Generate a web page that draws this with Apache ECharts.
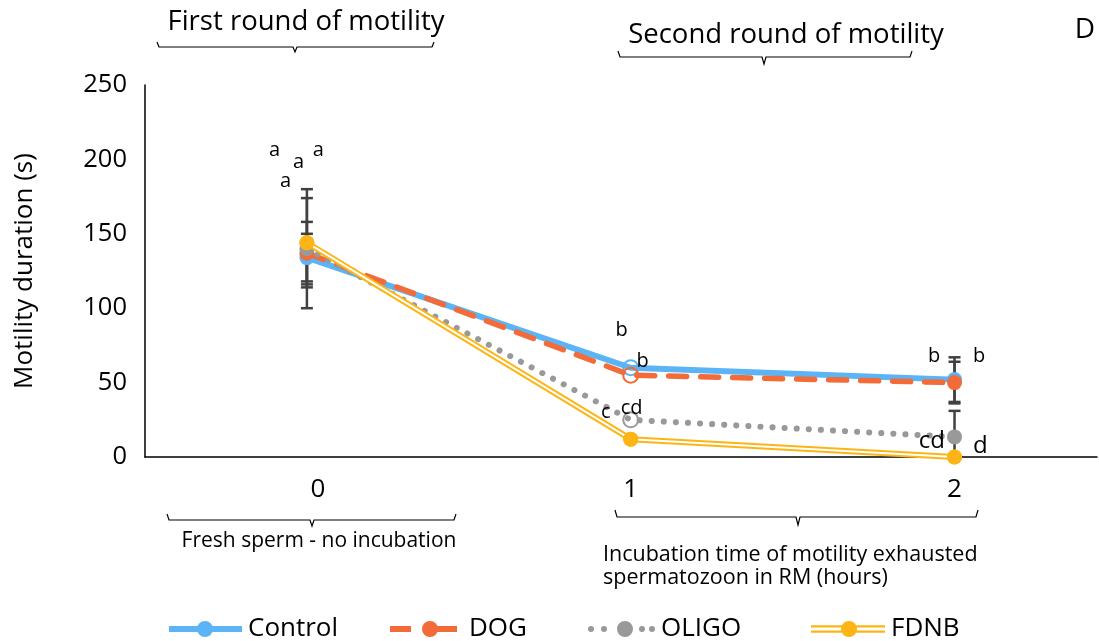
<!DOCTYPE html>
<html>
<head>
<meta charset="utf-8">
<script src="https://cdn.jsdelivr.net/npm/echarts@6/dist/echarts.min.js"></script>
<style>
html,body{margin:0;padding:0;background:#fff;}
#c{width:1099px;height:641px;}
</style>
</head>
<body>
<div id="c"></div>
<script>
// ---- data ----
const xValues = [0, 1, 2];
const xTickLabels = ['0', '1', '2'];
const seriesNames = ['Control', 'DOG', 'OLIGO', 'FDNB'];
const control = [134, 60, 52];
const dog = [137, 55, 50];
const oligo = [140, 25, 13.5];
const fdnb = [144, 12, 0];
const controlErr = [16, 0, 15];
const dogErr = [21, 0, 14];
const oligoErr = [40, 0, 17.5];
const fdnbErr = [30, 0, 0];
// hollow markers at these indices
const hollowIdx = {Control: [1], DOG: [1], OLIGO: [1], FDNB: []};
// significance letters: [x, y, text, size]
const letters = [
  [-0.10, 206, 'a', 20], [-0.026, 198, 'a', 20], [0.035, 206, 'a', 20], [-0.066, 185.5, 'a', 20],
  [0.972, 85, 'b', 20], [1.037, 64.5, 'b', 20], [0.923, 30, 'c', 20], [1.003, 33, 'cd', 20],
  [1.937, 68, 'b', 20], [2.076, 68, 'b', 20], [1.93, 10.5, 'cd', 24], [2.08, 7.5, 'd', 24]
];

const colors = {Control: '#5AB4F5', DOG: '#F26B38', OLIGO: '#999999', FDNB: '#FDB515'};
const FONT = '"Open Sans", "Noto Sans", sans-serif';

function mkData(name, vals) {
  return xValues.map((x, i) => {
    if (hollowIdx[name].indexOf(i) >= 0) {
      return {value: [x, vals[i]], itemStyle: {color: 'rgba(255,255,255,0)', borderColor: colors[name], borderWidth: 2}};
    }
    return {value: [x, vals[i]]};
  });
}

const errData = [];
[[control, controlErr], [dog, dogErr], [oligo, oligoErr], [fdnb, fdnbErr]].forEach(([v, e]) => {
  xValues.forEach((x, i) => { if (e[i] > 0) errData.push([x, v[i] - e[i], v[i] + e[i]]); });
});

const chart = echarts.init(document.getElementById('c'), null, {renderer: 'canvas'});

function circ(cx, cy, r) {
  return 'M' + (cx - r) + ',' + cy + ' A' + r + ',' + r + ' 0 1,1 ' + (cx + r) + ',' + cy + ' A' + r + ',' + r + ' 0 1,1 ' + (cx - r) + ',' + cy + ' Z';
}
function rect(x, y, w, h) {
  return 'M' + x + ',' + y + ' L' + (x + w) + ',' + y + ' L' + (x + w) + ',' + (y + h) + ' L' + x + ',' + (y + h) + ' Z';
}
const icons = {
  Control: 'path://' + rect(0, 5, 73, 6) + ' ' + circ(36, 8, 8),
  DOG: 'path://' + rect(0, 5, 21, 6) + ' ' + rect(47, 5, 20, 6) + ' ' + circ(40, 8, 8),
  OLIGO: 'path://' + circ(3, 8, 3) + ' ' + circ(16, 8, 3) + ' ' + circ(37, 8, 8) + ' ' + circ(54, 8, 3) + ' ' + circ(64, 8, 3),
  FDNB: 'path://' + rect(0, 4.2, 74, 2.2) + ' ' + rect(0, 9.6, 74, 2.2) + ' ' + circ(38, 8, 8)
};
const iconW = {Control: 73, DOG: 67, OLIGO: 67, FDNB: 74};
const textPad = {Control: 1, DOG: 7, OLIGO: 1, FDNB: 1};

function legendAt(name, left) {
  return {
    data: [{name: name, icon: icons[name]}], left: left, top: 616,
    itemWidth: iconW[name], itemHeight: 16, itemGap: 0, padding: 0,
    textStyle: {fontSize: 26, color: '#000', fontFamily: FONT, padding: [0, 0, 0, textPad[name]]},
    selectedMode: false
  };
}

const option = {
  animation: false,
  backgroundColor: '#fff',
  grid: {left: 145, right: 2, top: 85, bottom: 184},
  legend: [
    legendAt('Control', 169),
    legendAt('DOG', 390),
    legendAt('OLIGO', 588),
    legendAt('FDNB', 811)
  ],
  xAxis: {
    type: 'value', min: -0.5, max: 2.44, interval: 0.5,
    splitLine: {show: false}, axisTick: {show: false},
    axisLine: {show: true, onZero: false, lineStyle: {color: '#000', width: 1.5}},
    axisLabel: {
      margin: 20, fontSize: 26, color: '#000', fontFamily: FONT,
      showMaxLabel: false, showMinLabel: false,
      formatter: function (v) {
        const i = xValues.indexOf(v);
        if (i < 0) return '';
        return i === 0 ? '{z|' + xTickLabels[i] + '}' : xTickLabels[i];
      },
      rich: {z: {fontSize: 26, color: '#000', fontFamily: FONT, padding: [0, 0, 0, 22]}}
    }
  },
  yAxis: {
    type: 'value', min: 0, max: 250, interval: 50,
    name: 'Motility duration (s)', nameLocation: 'middle', nameGap: 107, nameRotate: 90,
    nameTextStyle: {fontSize: 26, color: '#000', fontFamily: FONT},
    splitLine: {show: false}, axisTick: {show: false},
    axisLine: {show: true, onZero: false, lineStyle: {color: '#000', width: 1.5}},
    axisLabel: {margin: 18, fontSize: 25.5, color: '#000', fontFamily: FONT}
  },
  series: [
    {
      type: 'custom', name: 'err', z: 1, clip: true,
      renderItem: function (params, api) {
        const x = api.value(0), lo = api.value(1), hi = api.value(2);
        const p1 = api.coord([x, hi]), p2 = api.coord([x, lo]);
        const w = 6;
        const st = {stroke: '#404040', lineWidth: 2.5};
        return {type: 'group', children: [
          {type: 'line', shape: {x1: p1[0], y1: p1[1], x2: p2[0], y2: p2[1]}, style: st},
          {type: 'line', shape: {x1: p1[0] - w, y1: p1[1], x2: p1[0] + w, y2: p1[1]}, style: st},
          {type: 'line', shape: {x1: p2[0] - w, y1: p2[1], x2: p2[0] + w, y2: p2[1]}, style: st}
        ]};
      },
      data: errData, silent: true
    },
    {
      type: 'line', name: 'Control', data: mkData('Control', control), z: 2,
      symbol: 'circle', symbolSize: 15, color: colors.Control,
      lineStyle: {color: colors.Control, width: 6}, itemStyle: {color: colors.Control}
    },
    {
      type: 'line', name: 'DOG', data: mkData('DOG', dog), z: 3,
      symbol: 'circle', symbolSize: 15, color: colors.DOG,
      lineStyle: {color: colors.DOG, width: 5.5, type: [18, 14], cap: 'round'}, itemStyle: {color: colors.DOG}
    },
    {
      type: 'line', name: 'OLIGO', data: mkData('OLIGO', oligo), z: 4,
      symbol: 'circle', symbolSize: 15, color: colors.OLIGO,
      lineStyle: {color: colors.OLIGO, width: 6, type: [0.1, 12], cap: 'round'}, itemStyle: {color: colors.OLIGO}
    },
    {
      type: 'line', name: 'FDNB', data: mkData('FDNB', fdnb), z: 5,
      symbol: 'circle', symbolSize: 15, color: colors.FDNB,
      lineStyle: {color: colors.FDNB, width: 6}, itemStyle: {color: colors.FDNB}
    },
    {
      type: 'line', name: 'FDNB-inner', data: mkData('FDNB', fdnb), z: 6,
      symbol: 'none', lineStyle: {color: '#fff', width: 2}, silent: true
    },
    {
      type: 'scatter', name: 'FDNB-pts', data: mkData('FDNB', fdnb), z: 7,
      symbol: 'circle', symbolSize: 15, itemStyle: {color: colors.FDNB, opacity: 1}, silent: true
    },
    {
      type: 'scatter', name: 'letters', z: 8, silent: true,
      symbolSize: 0, itemStyle: {opacity: 1},
      data: letters.map(l => ({
        value: [l[0], l[1]],
        label: {show: true, position: 'inside', formatter: l[2], fontSize: l[3], color: '#000', opacity: 1, fontFamily: FONT}
      }))
    }
  ],
  graphic: [
    {type: 'text', style: {text: 'First round of motility', font: '27.5px ' + FONT, fill: '#000', textAlign: 'center', textVerticalAlign: 'middle'}, position: [306, 22]},
    {type: 'polyline', shape: {points: [[157, 42], [159, 47], [293, 47], [295, 52], [297, 47], [432, 47], [434, 42]]}, style: {stroke: '#000', lineWidth: 1.2, fill: null}},
    {type: 'text', style: {text: 'Second round of motility', font: '27.5px ' + FONT, fill: '#000', textAlign: 'center', textVerticalAlign: 'middle'}, position: [786, 35]},
    {type: 'polyline', shape: {points: [[618, 51], [620, 57], [762, 57], [764, 64], [766, 57], [910, 57], [912, 51]]}, style: {stroke: '#000', lineWidth: 1.2, fill: null}},
    {type: 'polyline', shape: {points: [[167, 514], [169, 520], [310, 520], [312, 526], [314, 520], [454, 520], [456, 514]]}, style: {stroke: '#000', lineWidth: 1.2, fill: null}},
    {type: 'text', style: {text: 'Fresh sperm - no incubation', font: '21px ' + FONT, fill: '#000', textAlign: 'center', textVerticalAlign: 'middle'}, position: [319, 541]},
    {type: 'polyline', shape: {points: [[615, 510], [617, 517], [796, 517], [798, 525], [800, 517], [976, 517], [978, 510]]}, style: {stroke: '#000', lineWidth: 1.2, fill: null}},
    {type: 'text', style: {text: 'Incubation time of motility exhausted', font: '21.5px ' + FONT, fill: '#000', textAlign: 'left', textVerticalAlign: 'middle'}, position: [603, 555]},
    {type: 'text', style: {text: 'spermatozoon in RM (hours)', font: '21.5px ' + FONT, fill: '#000', textAlign: 'left', textVerticalAlign: 'middle'}, position: [603, 578]},
    {type: 'text', style: {text: 'D', font: '28px ' + FONT, fill: '#000', textAlign: 'center', textVerticalAlign: 'middle'}, position: [1085, 30]}
  ]
};
chart.setOption(option);
</script>
</body>
</html>
